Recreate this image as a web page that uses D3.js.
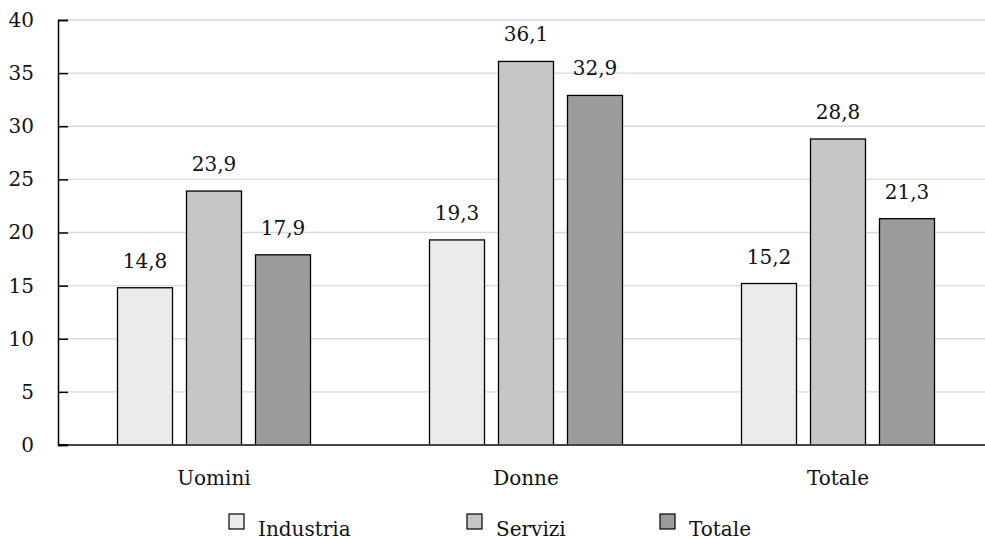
<!DOCTYPE html>
<html>
<head>
<meta charset="utf-8">
<script src="https://cdn.jsdelivr.net/npm/d3@7"></script>
<style>
  html, body { margin: 0; padding: 0; background: #fff; }
  svg { display: block; }
</style>
</head>
<body>
<svg id="chart" width="985" height="540"></svg>
<script>
// Categories, series and values
const categories = ["Uomini", "Donne", "Totale"];
const series = ["Industria", "Servizi", "Totale"];
const industria = [14.8, 19.3, 15.2];
const servizi = [23.9, 36.1, 28.8];
const totale = [17.9, 32.9, 21.3];
const yTicks = [0, 5, 10, 15, 20, 25, 30, 35, 40];
const seriesColors = ["#ebebeb", "#c6c6c6", "#9c9c9c"];

const valuesBySeries = [industria, servizi, totale];
const rows = categories.map((c, i) => ({
  category: c,
  bars: series.map((s, j) => ({ series: s, value: valuesBySeries[j][i], color: seriesColors[j] }))
}));

const fmt = v => d3.format(".1f")(v).replace(".", ",");
const SERIF = "'DejaVu Serif', serif";

const svg = d3.select("#chart");
const plotLeft = 58, plotRight = 994, plotTop = 20, plotBottom = 445;

const x0 = d3.scaleBand().domain(categories).range([plotLeft, plotRight]).padding(0);
const groupPad = 59.5;
const x1 = d3.scaleBand().domain(series)
  .range([groupPad, x0.bandwidth() - groupPad])
  .paddingInner(0.203).paddingOuter(0);
const y = d3.scaleLinear().domain([0, 40]).range([plotBottom, plotTop]);

// Horizontal gridlines
svg.append("g").selectAll("line").data(yTicks.filter(t => t > 0)).join("line")
  .attr("x1", plotLeft).attr("x2", 985)
  .attr("y1", d => y(d)).attr("y2", d => y(d))
  .attr("stroke", "#d9d9d9").attr("stroke-width", 1.3);

// Y axis with inward ticks
const yAxis = svg.append("g").attr("transform", `translate(${plotLeft},0)`)
  .call(d3.axisLeft(y).tickValues(yTicks).tickSize(-10).tickPadding(24).tickFormat(d => d));
yAxis.attr("font-family", SERIF).attr("font-size", 20);
yAxis.select(".domain").attr("stroke", "#000").attr("stroke-width", 1.5);
yAxis.selectAll(".tick line").attr("stroke", "#000").attr("stroke-width", 1.5);
yAxis.selectAll(".tick text").attr("fill", "#111");

// Bars
const groups = svg.append("g").selectAll("g").data(rows).join("g")
  .attr("transform", d => `translate(${x0(d.category)},0)`);

groups.selectAll("rect").data(d => d.bars).join("rect")
  .attr("x", d => x1(d.series))
  .attr("y", d => y(d.value))
  .attr("width", x1.bandwidth())
  .attr("height", d => y(0) - y(d.value))
  .attr("fill", d => d.color)
  .attr("stroke", "#000").attr("stroke-width", 1.3);

groups.selectAll("text.val").data(d => d.bars).join("text")
  .attr("class", "val")
  .attr("x", d => x1(d.series) + x1.bandwidth() / 2)
  .attr("y", d => y(d.value) - 20)
  .attr("text-anchor", "middle")
  .attr("fill", "#111")
  .attr("font-family", SERIF).attr("font-size", 20)
  .text(d => fmt(d.value));

// Baseline
svg.append("line").attr("x1", plotLeft).attr("x2", 985)
  .attr("y1", y(0)).attr("y2", y(0))
  .attr("stroke", "#444").attr("stroke-width", 2);
svg.append("line").attr("x1", plotLeft).attr("x2", plotLeft + 10)
  .attr("y1", y(0)).attr("y2", y(0))
  .attr("stroke", "#000").attr("stroke-width", 2);

// Category labels
svg.append("g").selectAll("text").data(categories).join("text")
  .attr("x", d => x0(d) + x0.bandwidth() / 2)
  .attr("y", 485)
  .attr("text-anchor", "middle")
  .attr("fill", "#111")
  .attr("font-family", SERIF).attr("font-size", 20)
  .text(d => d);

// Legend
const legendX = [229, 467, 660];
const legend = svg.append("g").selectAll("g").data(series).join("g")
  .attr("transform", (d, i) => `translate(${legendX[i]},514)`);
legend.append("rect").attr("width", 15).attr("height", 15)
  .attr("fill", (d, i) => seriesColors[i]).attr("stroke", "#000").attr("stroke-width", 1.2);
legend.append("text").attr("x", 29).attr("y", 22)
  .attr("fill", "#111")
  .attr("font-family", SERIF).attr("font-size", 20)
  .text(d => d);
</script>
</body>
</html>
